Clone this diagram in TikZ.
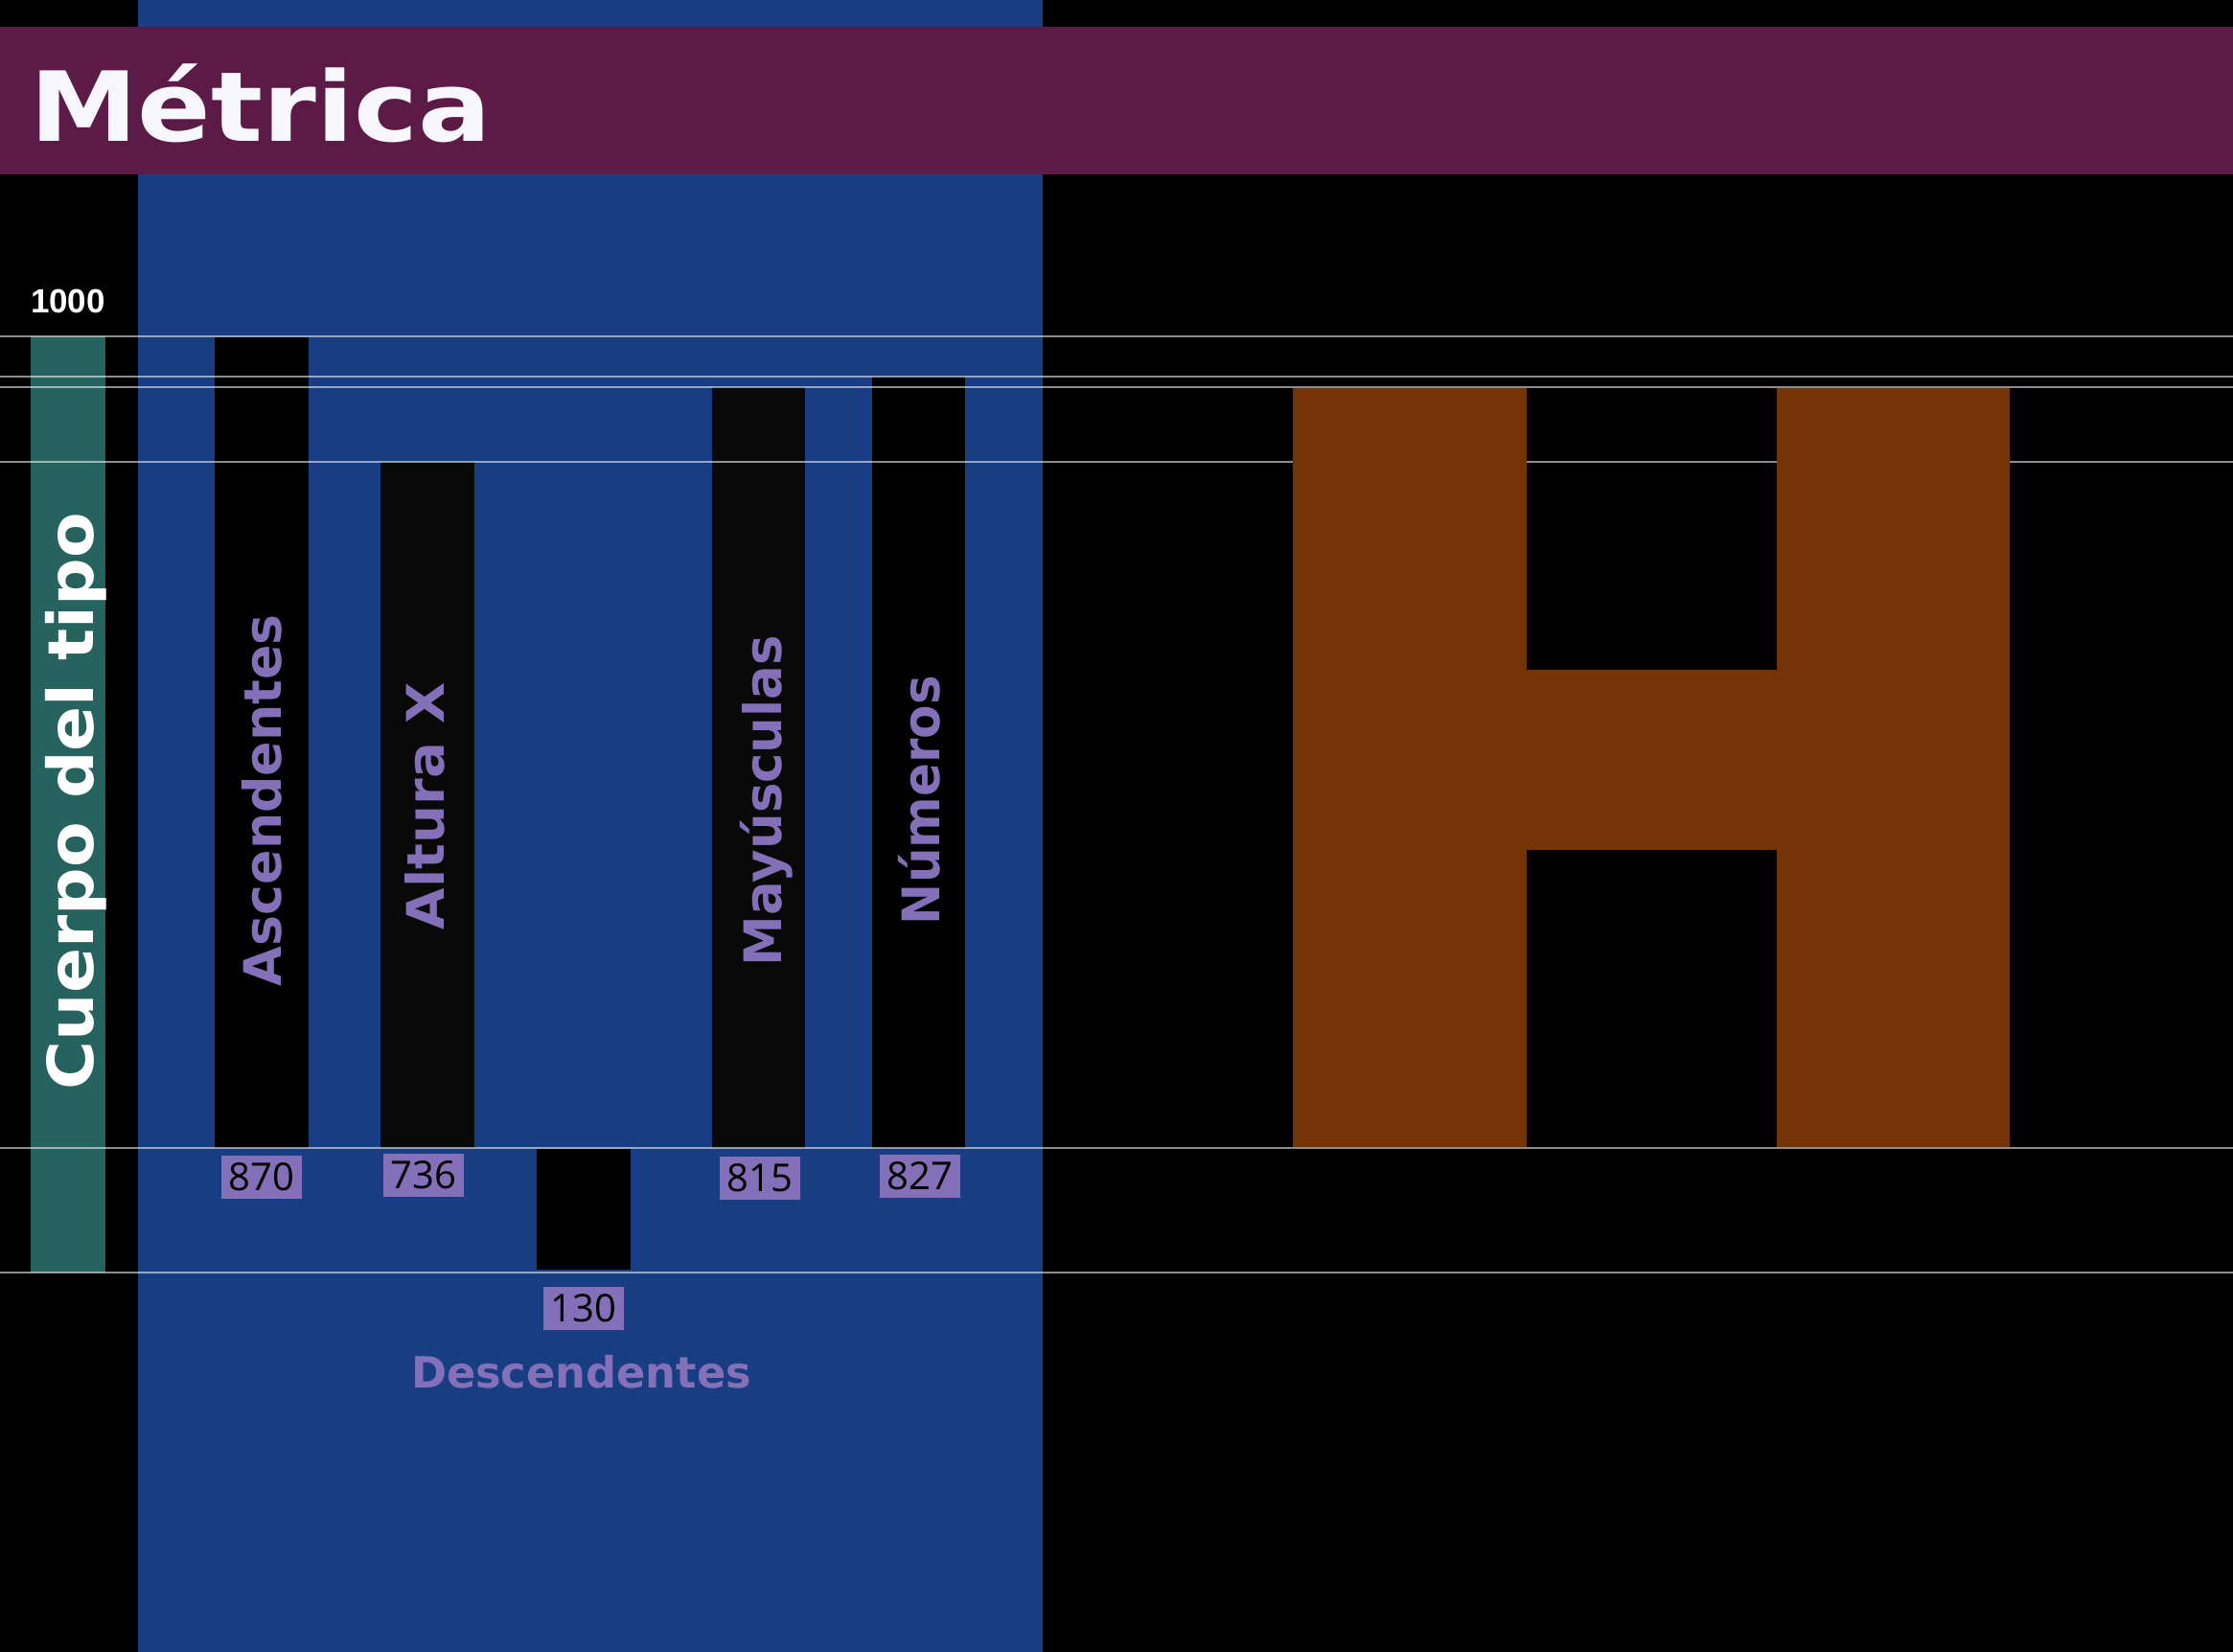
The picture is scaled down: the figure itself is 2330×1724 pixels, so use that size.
\documentclass[tikz,border=0pt]{standalone}
\usepackage{fontspec}
\usepackage{graphicx}
\newfontfamily\techfont{DejaVu Sans}
\newfontfamily\numfont{Open Sans}
\newfontfamily\arialfont{Liberation Sans}
\definecolor{bandblue}{RGB}{24,61,130}
\definecolor{headpurple}{RGB}{92,26,71}
\definecolor{bodyteal}{RGB}{38,98,94}
\definecolor{labpurple}{RGB}{131,112,184}
\definecolor{hbrown}{RGB}{116,52,5}
\definecolor{nearblack}{RGB}{9,9,9}
\definecolor{titlewhite}{RGB}{248,246,255}
\newcommand\fitto[3]{\resizebox{#1}{\height}{\techfont\bfseries\fontsize{#2}{#2}\selectfont #3}}
\begin{document}
\begin{tikzpicture}[x=1pt,y=-1pt,
  guide/.style={draw=white, draw opacity=0.55, line width=2pt},
  valbox/.style={fill=labpurple, text=black, inner sep=0pt, minimum width=84pt, minimum height=45pt, font=\numfont\fontsize{40}{42}\selectfont},
  vlabel/.style={rotate=90, anchor=base, inner sep=0pt, text=labpurple}]
\useasboundingbox (0,0) rectangle (2330,1724);
\fill[black] (0,0) rectangle (2330,1724);
% blue band and header
\fill[bandblue] (144,0) rectangle (1088,1724);
\fill[headpurple] (0,28) rectangle (2330,182);
\node[anchor=base, inner sep=0pt, text=titlewhite] (title) at (272,147) {\fitto{481pt}{101}{Métrica}};
% body bar
\fill[bodyteal] (32,351) rectangle (110,1328);
% metric bars
\fill[black] (224,352) rectangle (322,1198);
\fill[nearblack] (397,482) rectangle (495,1198);
\fill[black] (560,1199) rectangle (658,1325);
\fill[nearblack] (743,404) rectangle (840,1198);
\fill[black] (910,393) rectangle (1007,1198);
% guide lines
\foreach \yy in {351,393,404,482,1198,1328}
  \draw[guide] (0,\yy) -- (2330,\yy);
% H glyph
\fill[hbrown] (1349,405) rectangle (1593,1197);
\fill[hbrown] (1854,405) rectangle (2097,1197);
\fill[hbrown] (1592,698.5) rectangle (1855,887);
% 1000 label
\node[inner sep=0pt, text=white, font=\arialfont\bfseries\fontsize{35}{38}\selectfont] (mil) at (71,314) {1000};
% value boxes
\node[valbox] (v870) at (273,1228) {870};
\node[valbox] (v736) at (442,1226.5) {736};
\node[valbox] (v815) at (793,1229.5) {815};
\node[valbox] (v827) at (960,1227.5) {827};
\node[valbox] (v130) at (609,1365.5) {130};
% vertical labels
\node[rotate=90, anchor=base, inner sep=0pt, text=white] (cuerpo) at (97,836) {\fitto{602pt}{66}{Cuerpo del tipo}};
\node[vlabel] (asc) at (293,835) {\fitto{388pt}{54}{Ascendentes}};
\node[vlabel] (alt) at (463,841) {\fitto{258pt}{54}{Altura X}};
\node[vlabel] (may) at (815,835.5) {\fitto{345pt}{54}{Mayúsculas}};
\node[vlabel] (num) at (980,835) {\fitto{260pt}{54}{Números}};
% descendentes
\node[anchor=base, inner sep=0pt, text=labpurple] (desc) at (606.5,1448) {\fitto{355pt}{45}{Descendentes}};
\end{tikzpicture}
\end{document}
